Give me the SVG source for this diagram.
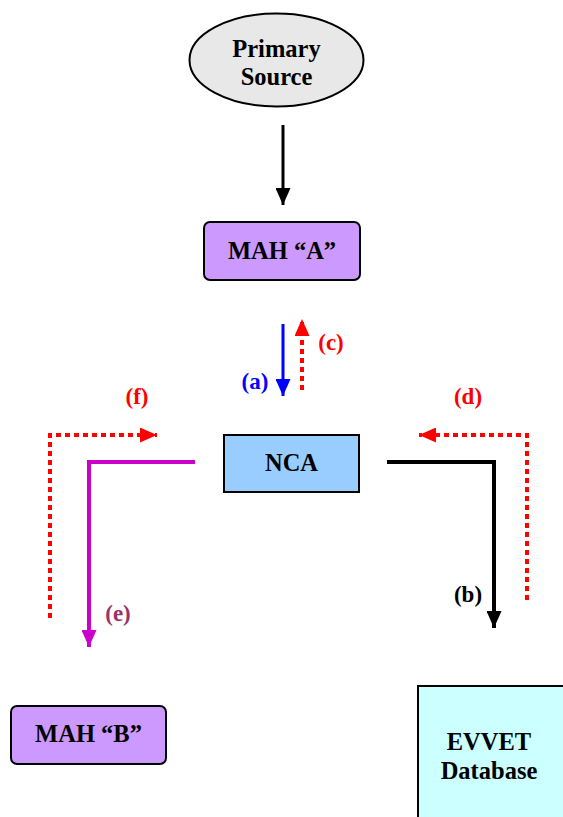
<svg xmlns="http://www.w3.org/2000/svg" width="563" height="817" viewBox="0 0 563 817">
<style>
.t{font-family:"Liberation Serif","Times New Roman",serif;font-weight:bold;font-size:24.5px;text-anchor:middle;fill:#000}
.l{font-family:"Liberation Serif","Times New Roman",serif;font-weight:bold;font-size:23px;text-anchor:middle}
.box{stroke:#000;stroke-width:2}
.dot{fill:none;stroke:#ff0000;stroke-width:4;stroke-dasharray:5 4}
</style>
<defs>
<marker id="hk" markerUnits="userSpaceOnUse" markerWidth="17" markerHeight="15" refX="17" refY="7.5" orient="auto"><path d="M0,0 L17,7.5 L0,15 z" fill="#000"/></marker>
<marker id="hb" markerUnits="userSpaceOnUse" markerWidth="17" markerHeight="15" refX="17" refY="7.5" orient="auto"><path d="M0,0 L17,7.5 L0,15 z" fill="#0000ff"/></marker>
<marker id="hr" markerUnits="userSpaceOnUse" markerWidth="17" markerHeight="15" refX="17" refY="7.5" orient="auto"><path d="M0,0 L17,7.5 L0,15 z" fill="#ff0000"/></marker>
<marker id="hm" markerUnits="userSpaceOnUse" markerWidth="17" markerHeight="15" refX="17" refY="7.5" orient="auto"><path d="M0,0 L17,7.5 L0,15 z" fill="#cc00cc"/></marker>
</defs>
<rect width="563" height="817" fill="#fff"/>
<g id="primary-source">
<ellipse cx="276.5" cy="60" rx="87" ry="46.5" fill="#e8e8e8" class="box"/>
<text class="t" x="276.5" y="57">Primary</text>
<text class="t" x="276.5" y="85">Source</text>
</g>
<g id="mah-a">
<rect x="204" y="222" width="156" height="58" rx="6" fill="#cc99ff" class="box"/>
<text class="t" x="282" y="259">MAH “A”</text>
</g>
<g id="nca">
<rect x="224" y="435" width="135" height="57" fill="#99ccff" class="box"/>
<text class="t" x="291.5" y="471">NCA</text>
</g>
<g id="mah-b">
<rect x="11" y="706" width="155" height="58" rx="6" fill="#cc99ff" class="box"/>
<text class="t" x="88.5" y="742">MAH “B”</text>
</g>
<g id="evvet">
<rect x="418" y="686" width="150" height="140" fill="#ccffff" class="box"/>
<text class="t" x="489" y="750">EVVET</text>
<text class="t" x="489" y="779">Database</text>
</g>
<g id="connectors">
<line x1="283" y1="125" x2="283" y2="205" stroke="#000" stroke-width="3" marker-end="url(#hk)"/>
<line x1="283" y1="324" x2="283" y2="396" stroke="#0000ff" stroke-width="3" marker-end="url(#hb)"/>
<line x1="302" y1="390" x2="302" y2="319" class="dot" marker-end="url(#hr)"/>
<polyline points="50,618 50,435 157,435" class="dot" marker-end="url(#hr)"/>
<polyline points="195,462 89,462 89,647" fill="none" stroke="#cc00cc" stroke-width="4" marker-end="url(#hm)"/>
<polyline points="387,462 494,462 494,628" fill="none" stroke="#000" stroke-width="4" marker-end="url(#hk)"/>
<polyline points="527,600 527,435 419,435" class="dot" marker-end="url(#hr)"/>
</g>
<g id="labels">
<text class="l" x="255" y="389" fill="#0000ff">(a)</text>
<text class="l" x="331" y="350" fill="#ff0000">(c)</text>
<text class="l" x="137" y="404" fill="#ff0000">(f)</text>
<text class="l" x="468" y="404" fill="#ff0000">(d)</text>
<text class="l" x="118" y="621" fill="#993366">(e)</text>
<text class="l" x="468" y="602" fill="#000">(b)</text>
</g>
</svg>
